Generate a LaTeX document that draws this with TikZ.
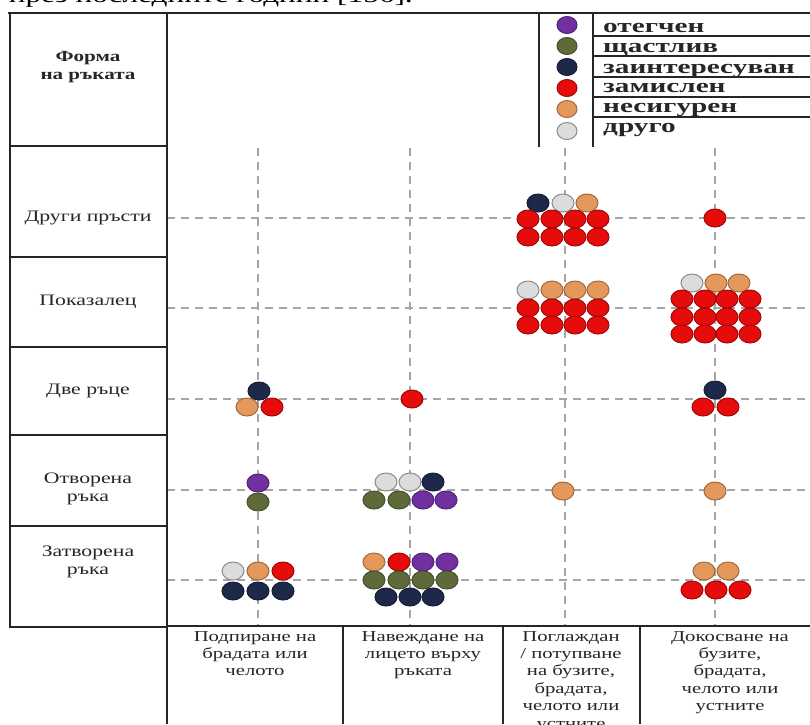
\documentclass[tikz,border=0pt]{standalone}
\usepackage{fontspec}
\setmainfont{Liberation Serif}[FakeStretch=1.36]
\newfontfamily\legfont{Liberation Serif}[FakeStretch=1.5]
\usetikzlibrary{shapes.geometric}
\definecolor{cPur}{RGB}{112,48,160}
\definecolor{cOli}{RGB}{94,106,58}
\definecolor{cNav}{RGB}{30,40,72}
\definecolor{cRed}{RGB}{230,12,12}
\definecolor{cOra}{RGB}{228,152,92}
\definecolor{cGry}{RGB}{220,220,220}
\definecolor{cInk}{RGB}{38,38,38}
\tikzset{
  dotsty/.style={ellipse, minimum width=22, minimum height=18, inner sep=0, line width=1},
  legdot/.style={ellipse, minimum width=20, minimum height=17, inner sep=0, line width=1},
  pdot/.style={fill=cPur, draw=cPur!75!black},
  odot/.style={fill=cOli, draw=cOli!75!black},
  ndot/.style={fill=cNav, draw=cNav!75!black},
  rdot/.style={fill=cRed, draw=cRed!70!black},
  adot/.style={fill=cOra, draw=cOra!70!black},
  gdot/.style={fill=cGry, draw=black!45},
  gridline/.style={draw=black!35, line width=1.1, dash pattern=on 8 off 6},
  frame/.style={draw=cInk, line width=1.9},
  thinframe/.style={draw=cInk, line width=1.4},
  rowlab/.style={text=cInk, align=center, font=\fontsize{16}{18.5}\selectfont, inner sep=0},
  collab/.style={text=cInk, align=center, anchor=north, font=\fontsize{15.2}{17.4}\selectfont, inner sep=0},
  leglab/.style={text=cInk, anchor=base west, font=\legfont\bfseries\fontsize{19.5}{20}\selectfont, inner sep=0},
}
\newcommand\mydot[4]{\node[dotsty,#1] (#2) at (#3,#4) {};}
\begin{document}
\begin{tikzpicture}[x=1pt,y=-1pt]
\useasboundingbox (0,0) rectangle (810,724);
\clip (0,0) rectangle (810,724);
\fill[white] (0,0) rectangle (810,724);

% cut-off line of surrounding text
\node[anchor=base east, text=black, font=\fontsize{23}{26}\selectfont, inner sep=0] (toptext) at (413,2) {през последните години [156].};

% grid
\foreach \x in {258,410,565,715} \draw[gridline] (\x,148) -- (\x,625);
\foreach \y in {218,308,399,490,580} \draw[gridline] (167,\y) -- (810,\y);

% frames
\draw[frame] (8,13) -- (810,13);
\draw[frame] (10,13) -- (10,627) -- (167,627);
\draw[frame] (10,146) -- (167,146);
\foreach \y in {257,347,435,526} \draw[frame] (10,\y) -- (167,\y);
\draw[frame] (167,13) -- (167,724);
\draw[frame] (167,626) -- (810,626);
\foreach \x in {343,503,640} \draw[frame] (\x,626) -- (\x,724);

% legend
\draw[thinframe] (539,13) -- (539,147);
\draw[thinframe] (593,13) -- (593,147);
\foreach \y in {36,56,77,97,117} \draw[thinframe] (593,\y) -- (810,\y);
\node[legdot,pdot] (lp) at (567,25) {};
\node[legdot,odot] (lo) at (567,46) {};
\node[legdot,ndot] (ln) at (567,67) {};
\node[legdot,rdot] (lr) at (567,88) {};
\node[legdot,adot] (la) at (567,109) {};
\node[legdot,gdot] (lg) at (567,131) {};
\node[leglab] (tp) at (603,32) {отегчен};
\node[leglab] (to) at (603,52) {щастлив};
\node[leglab] (tn) at (603,73) {заинтересуван};
\node[leglab] (tr) at (603,92) {замислен};
\node[leglab] (ta) at (603,112) {несигурен};
\node[leglab] (tg) at (603,132) {друго};

% header and row labels
\node[rowlab, font=\bfseries\fontsize{15.5}{18}\selectfont] (hdr) at (88,67) {Форма\\на ръката};
\node[rowlab] (r1) at (88,218) {Други пръсти};
\node[rowlab] (r2) at (88,302) {Показалец};
\node[rowlab] (r3) at (88,391) {Две ръце};
\node[rowlab] (r4) at (88,489) {Отворена\\ръка};
\node[rowlab] (r5) at (88,562) {Затворена\\ръка};

% column labels
\node[collab] (c1) at (255,631) {Подпиране на\\брадата или\\челото};
\node[collab] (c2) at (423,631) {Навеждане на\\лицето върху\\ръката};
\node[collab] (c3) at (571,631) {Поглаждан\\/ потупване\\на бузите,\\брадата,\\челото или\\устните};
\node[collab] (c4) at (730,631) {Докосване на\\бузите,\\брадата,\\челото или\\устните};

% r1 c3
\mydot{ndot}{a1}{538}{203}\mydot{gdot}{a2}{563}{203}\mydot{adot}{a3}{587}{203}
\foreach \yy/\k in {219/1,237/2}{
  \foreach \xx/\j in {528/1,552/2,575/3,598/4}{\mydot{rdot}{a\k\j}{\xx}{\yy}}}
% r1 c4
\mydot{rdot}{b1}{715}{218}
% r2 c3
\mydot{gdot}{c1d}{528}{290}\mydot{adot}{c2d}{552}{290}\mydot{adot}{c3d}{575}{290}\mydot{adot}{c4d}{598}{290}
\foreach \yy/\k in {308/1,325/2}{
  \foreach \xx/\j in {528/1,552/2,575/3,598/4}{\mydot{rdot}{c\k\j}{\xx}{\yy}}}
% r2 c4
\mydot{gdot}{d1}{692}{283}\mydot{adot}{d2}{716}{283}\mydot{adot}{d3}{739}{283}
\foreach \yy/\k in {299/1,317/2,334/3}{
  \foreach \xx/\j in {682/1,705/2,727/3,750/4}{\mydot{rdot}{d\k\j}{\xx}{\yy}}}
% r3 c1
\mydot{ndot}{e1}{259}{391}\mydot{adot}{e2}{247}{407}\mydot{rdot}{e3}{272}{407}
% r3 c2
\mydot{rdot}{f1}{412}{399}
% r3 c4
\mydot{ndot}{g1}{715}{390}\mydot{rdot}{g2}{703}{407}\mydot{rdot}{g3}{728}{407}
% r4 c1
\mydot{pdot}{h1}{258}{483}\mydot{odot}{h2}{258}{502}
% r4 c2
\mydot{gdot}{i1}{386}{482}\mydot{gdot}{i2}{410}{482}\mydot{ndot}{i3}{433}{482}
\mydot{odot}{i4}{374}{500}\mydot{odot}{i5}{399}{500}\mydot{pdot}{i6}{423}{500}\mydot{pdot}{i7}{446}{500}
% r4 c3, c4
\mydot{adot}{j1}{563}{491}
\mydot{adot}{k1}{715}{491}
% r5 c1
\mydot{gdot}{l1}{233}{571}\mydot{adot}{l2}{258}{571}\mydot{rdot}{l3}{283}{571}
\mydot{ndot}{l4}{233}{591}\mydot{ndot}{l5}{258}{591}\mydot{ndot}{l6}{283}{591}
% r5 c2
\mydot{adot}{m1}{374}{562}\mydot{rdot}{m2}{399}{562}\mydot{pdot}{m3}{423}{562}\mydot{pdot}{m4}{447}{562}
\mydot{odot}{m5}{374}{580}\mydot{odot}{m6}{399}{580}\mydot{odot}{m7}{423}{580}\mydot{odot}{m8}{447}{580}
\mydot{ndot}{m9}{386}{597}\mydot{ndot}{m10}{410}{597}\mydot{ndot}{m11}{433}{597}
% r5 c4
\mydot{adot}{n1}{704}{571}\mydot{adot}{n2}{728}{571}
\mydot{rdot}{n3}{692}{590}\mydot{rdot}{n4}{716}{590}\mydot{rdot}{n5}{740}{590}
\end{tikzpicture}
\end{document}
